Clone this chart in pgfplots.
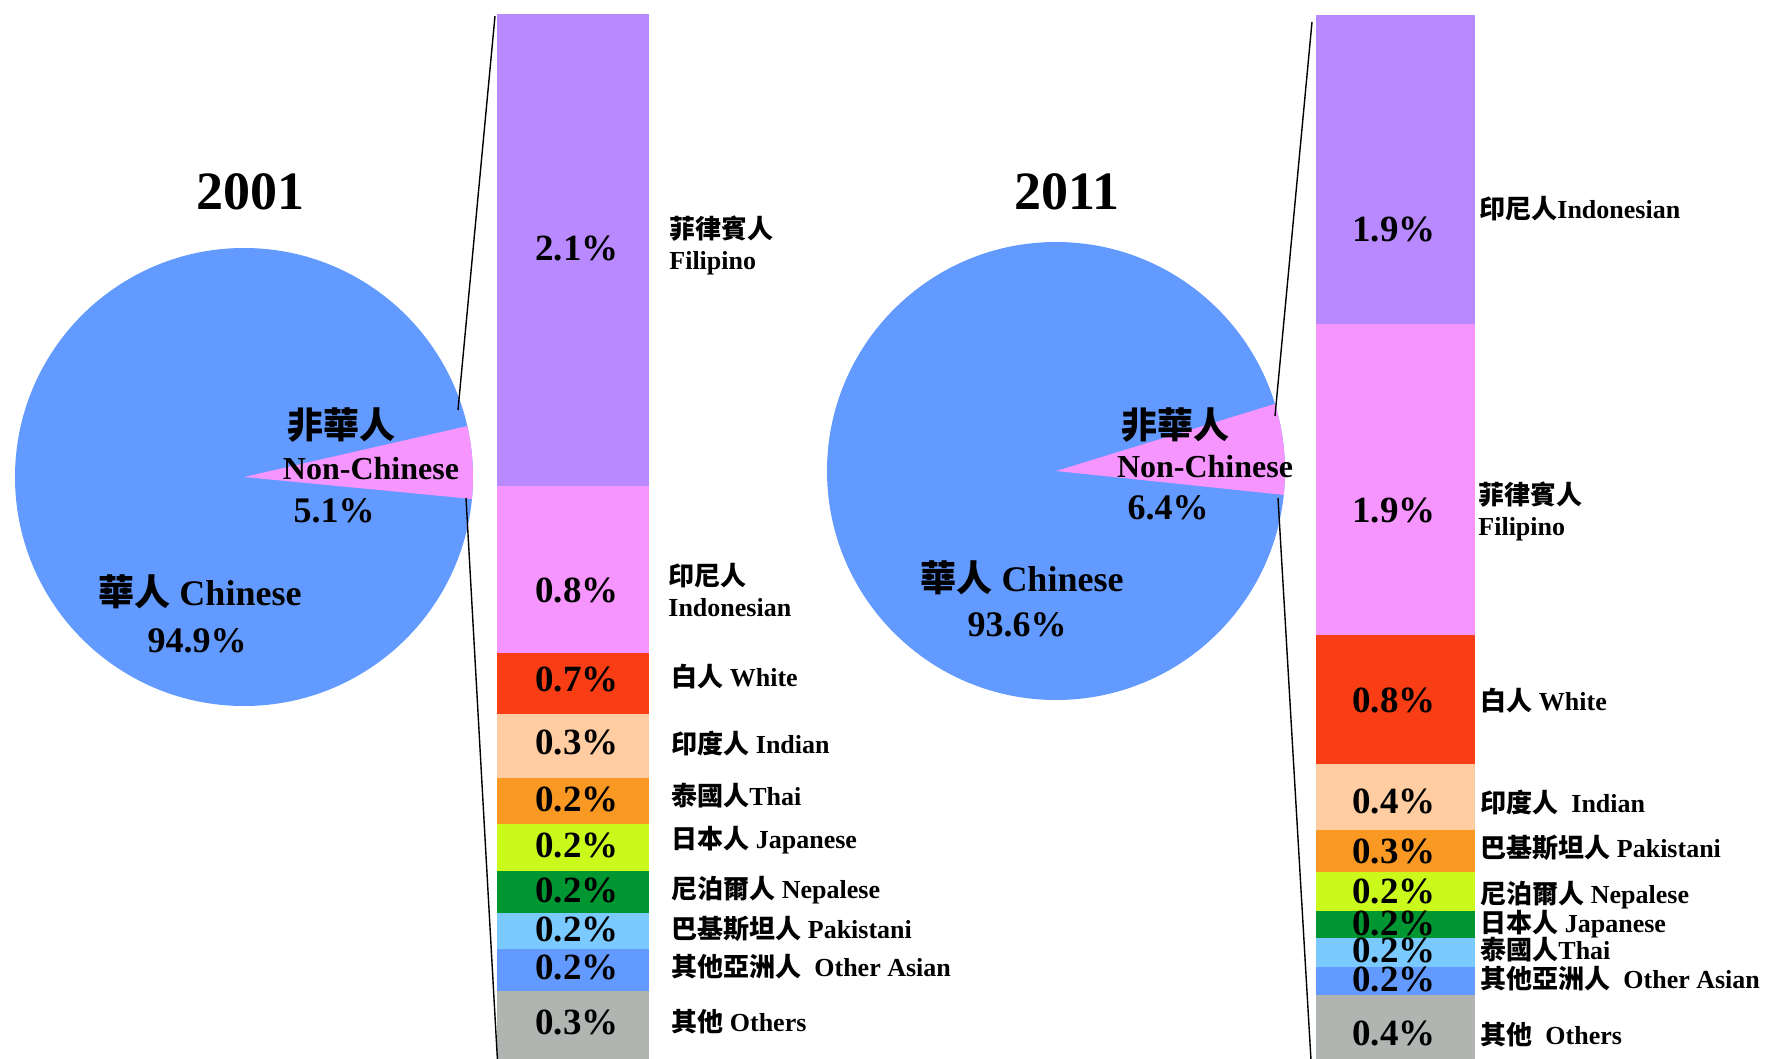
\documentclass[border=0pt]{standalone}
\usepackage{pgfplots}
\pgfplotsset{compat=1.18}
\usepackage{fontspec}
\setmainfont{Liberation Serif}
\newfontfamily\cjk{Noto Sans CJK TC}

\definecolor{cblue}{RGB}{99,154,255}
\definecolor{cpink}{RGB}{247,149,255}
\definecolor{cpurple}{RGB}{185,138,255}
\definecolor{cred}{RGB}{249,62,22}
\definecolor{cpeach}{RGB}{255,205,161}
\definecolor{corange}{RGB}{249,152,35}
\definecolor{clime}{RGB}{202,250,28}
\definecolor{cgreen}{RGB}{0,150,50}
\definecolor{cltblue}{RGB}{122,202,255}
\definecolor{cgray}{RGB}{176,181,178}

% one canvas unit = one pixel of the 1769x1059 picture (0.5pt)
\pgfplotsset{
  canvas/.style={
    at={(0,0)}, anchor=south west,
    width=884.5pt, height=529.5pt, scale only axis,
    xmin=0, xmax=1769, ymin=0, ymax=1059, y dir=reverse,
    enlargelimits=false, hide axis,
  },
  seg/.style={fill=#1, draw=none},
}
\tikzset{
  val/.style={font=\fontsize{18.5}{20}\selectfont\bfseries, inner sep=0pt, text height=0.69em, text depth=0pt, yshift=-2.5pt},
  cat/.style={font=\fontsize{13}{15}\selectfont\bfseries, inner sep=0pt, anchor=west, text height=0.8em, text depth=0.1em},
  pie/.style={font=\fontsize{18}{20}\selectfont\bfseries, inner sep=0pt, text height=0.72em, text depth=0pt, yshift=-1.7pt},
  yr/.style={font=\fontsize{27}{30}\selectfont\bfseries, inner sep=0pt},
}

\begin{document}
\begin{tikzpicture}
% ---------- 2001 bar (segment heights as drawn, first = gap) ----------
\begin{axis}[canvas, ybar stacked, bar width=152]
  \addplot[draw=none, fill=none] coordinates {(573,14)};
  \addplot[seg=cpurple] coordinates {(573,472)};
  \addplot[seg=cpink]   coordinates {(573,167)};
  \addplot[seg=cred]    coordinates {(573,61)};
  \addplot[seg=cpeach]  coordinates {(573,64)};
  \addplot[seg=corange] coordinates {(573,46)};
  \addplot[seg=clime]   coordinates {(573,47)};
  \addplot[seg=cgreen]  coordinates {(573,42)};
  \addplot[seg=cltblue] coordinates {(573,36)};
  \addplot[seg=cblue]   coordinates {(573,42)};
  \addplot[seg=cgray]   coordinates {(573,100)};
\end{axis}

% ---------- 2011 bar ----------
\begin{axis}[canvas, ybar stacked, bar width=159]
  \addplot[draw=none, fill=none] coordinates {(1395.5,15)};
  \addplot[seg=cpurple] coordinates {(1395.5,309)};
  \addplot[seg=cpink]   coordinates {(1395.5,311)};
  \addplot[seg=cred]    coordinates {(1395.5,129)};
  \addplot[seg=cpeach]  coordinates {(1395.5,66)};
  \addplot[seg=corange] coordinates {(1395.5,42)};
  \addplot[seg=clime]   coordinates {(1395.5,39)};
  \addplot[seg=cgreen]  coordinates {(1395.5,27)};
  \addplot[seg=cltblue] coordinates {(1395.5,29)};
  \addplot[seg=cblue]   coordinates {(1395.5,28)};
  \addplot[seg=cgray]   coordinates {(1395.5,100)};
\end{axis}

% ---------- pies, connectors and labels ----------
\begin{axis}[canvas]
  % 2001: Chinese 94.9, Non-Chinese 5.1
  \fill[cblue] (axis cs:244,477) circle[radius=114.5pt];
  \pgfmathsetmacro\sliceA{5.1*3.6}
  \fill[cpink] (axis cs:244,477) -- ++(-5.5:114.5pt)
     arc[start angle=-5.5, delta angle=\sliceA, radius=114.5pt] -- cycle;
  % 2011: Chinese 93.6, Non-Chinese 6.4
  \fill[cblue] (axis cs:1056,471) circle[radius=114.5pt];
  \pgfmathsetmacro\sliceB{6.4*3.6}
  \fill[cpink] (axis cs:1056,471) -- ++(-6:114.5pt)
     arc[start angle=-6, delta angle=\sliceB, radius=114.5pt] -- cycle;

  \addplot[black, line width=0.7pt] coordinates {(495,16) (458,410)};
  \addplot[black, line width=0.7pt] coordinates {(466,498) (498,1070)};
  \addplot[black, line width=0.7pt] coordinates {(1312,22) (1275,416)};
  \addplot[black, line width=0.7pt] coordinates {(1278,498) (1311,1060)};

  \node[yr] at (axis cs:250,192) {2001};
  \node[yr] at (axis cs:1067,192) {2011};

  \node[pie] at (axis cs:341,428) {\cjk 非華人};
  \node[pie, font=\fontsize{16}{18}\selectfont\bfseries] at (axis cs:371,469) {Non-Chinese};
  \node[pie] at (axis cs:334,512) {5.1\%};
  \node[pie] at (axis cs:200,595) {{\cjk 華人} Chinese};
  \node[pie] at (axis cs:197,642) {94.9\%};

  \node[pie] at (axis cs:1175,428) {\cjk 非華人};
  \node[pie, font=\fontsize{16}{18}\selectfont\bfseries] at (axis cs:1205,467) {Non-Chinese};
  \node[pie] at (axis cs:1168,509) {6.4\%};
  \node[pie] at (axis cs:1022,581) {{\cjk 華人} Chinese};
  \node[pie] at (axis cs:1017,626) {93.6\%};

  % 2001 bar values
  \node[val] at (axis cs:577,249) {2.1\%};
  \node[val] at (axis cs:577,591) {0.8\%};
  \node[val] at (axis cs:577,680) {0.7\%};
  \node[val] at (axis cs:577,743) {0.3\%};
  \node[val] at (axis cs:577,800) {0.2\%};
  \node[val] at (axis cs:577,846) {0.2\%};
  \node[val] at (axis cs:577,891) {0.2\%};
  \node[val] at (axis cs:577,930) {0.2\%};
  \node[val] at (axis cs:577,968) {0.2\%};
  \node[val] at (axis cs:577,1023) {0.3\%};
  % 2001 categories
  \node[cat] at (axis cs:669,232) {\cjk 菲律賓人};
  \node[cat] at (axis cs:669,263) {Filipino};
  \node[cat] at (axis cs:668,578) {\cjk 印尼人};
  \node[cat] at (axis cs:668,609) {Indonesian};
  \node[cat] at (axis cs:671,679) {{\cjk 白人} White};
  \node[cat] at (axis cs:671,746) {{\cjk 印度人} Indian};
  \node[cat] at (axis cs:671,798) {{\cjk 泰國人}Thai};
  \node[cat] at (axis cs:671,841) {{\cjk 日本人} Japanese};
  \node[cat] at (axis cs:671,891) {{\cjk 尼泊爾人} Nepalese};
  \node[cat] at (axis cs:671,931) {{\cjk 巴基斯坦人} Pakistani};
  \node[cat] at (axis cs:671,969) {{\cjk 其他亞洲人}\ \ Other Asian};
  \node[cat] at (axis cs:671,1024) {{\cjk 其他} Others};

  % 2011 bar values
  \node[val] at (axis cs:1394,230) {1.9\%};
  \node[val] at (axis cs:1394,511) {1.9\%};
  \node[val] at (axis cs:1394,701) {0.8\%};
  \node[val] at (axis cs:1394,802) {0.4\%};
  \node[val] at (axis cs:1394,852) {0.3\%};
  \node[val] at (axis cs:1394,892) {0.2\%};
  \node[val] at (axis cs:1394,924) {0.2\%};
  \node[val] at (axis cs:1394,951) {0.2\%};
  \node[val] at (axis cs:1394,980) {0.2\%};
  \node[val] at (axis cs:1394,1034) {0.4\%};
  % 2011 categories
  \node[cat] at (axis cs:1479,212) {{\cjk 印尼人}Indonesian};
  \node[cat] at (axis cs:1478,497) {\cjk 菲律賓人};
  \node[cat] at (axis cs:1478,528) {Filipino};
  \node[cat] at (axis cs:1480,703) {{\cjk 白人} White};
  \node[cat] at (axis cs:1480,805) {{\cjk 印度人}\ \ Indian};
  \node[cat] at (axis cs:1480,850) {{\cjk 巴基斯坦人} Pakistani};
  \node[cat] at (axis cs:1480,896) {{\cjk 尼泊爾人} Nepalese};
  \node[cat] at (axis cs:1480,925) {{\cjk 日本人} Japanese};
  \node[cat] at (axis cs:1480,952) {{\cjk 泰國人}Thai};
  \node[cat] at (axis cs:1480,981) {{\cjk 其他亞洲人}\ \ Other Asian};
  \node[cat] at (axis cs:1480,1037) {{\cjk 其他}\ \ Others};
\end{axis}

\pgfresetboundingbox
\path[use as bounding box] (0,0) rectangle (884.5pt,529.5pt);
\end{tikzpicture}
\end{document}
